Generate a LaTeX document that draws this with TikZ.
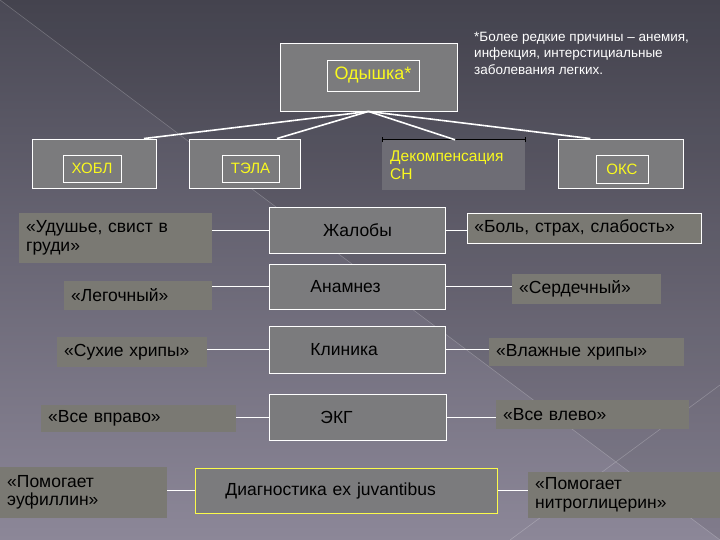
\documentclass[tikz,border=0pt]{standalone}
\usepackage{fontspec}
\setmainfont{Liberation Sans}
\usetikzlibrary{calc,arrows.meta}

\definecolor{bgtop}{RGB}{74,73,85}
\definecolor{bgbot}{RGB}{140,135,152}
\definecolor{boxgray}{RGB}{123,123,125}
\definecolor{sidegray}{RGB}{122,121,115}
\definecolor{cellgray}{RGB}{110,109,117}
\definecolor{tagyellow}{RGB}{250,250,30}

\tikzset{
  frame/.style={draw=white, fill=boxgray, line width=0.9pt, inner sep=0pt},
  tag/.style={frame, text=tagyellow, font=\fontsize{15}{18}\selectfont},
  cell/.style={frame, anchor=west, align=left, minimum width=176pt, font=\fontsize{17.5}{21}\selectfont},
  side/.style={fill=sidegray, anchor=west, align=left, inner xsep=7pt, inner ysep=0pt, font=\fontsize{17.5}{18.5}\selectfont},
  link/.style={white, line width=0.9pt},
  branch/.style={white, line width=1.6pt}
}

\begin{document}
\begin{tikzpicture}[x=1pt, y=-1pt]
    % background
    \useasboundingbox (0,0) rectangle (720,540);
    \fill[top color=bgtop, bottom color=bgbot] (0,0) rectangle (720,540);
    \fill[black, opacity=0.08] (0,0) -- (720,0) -- (720,540) -- cycle;
    \draw[white, opacity=0.22, line width=0.6pt] (0,0) -- (720,540) (720,385) -- (510,540);

    % top
    \node[frame, minimum width=177pt, minimum height=68pt] (dyspbox) at (368.5,77) {};
    \node[tag, minimum width=92pt, minimum height=31pt, font=\fontsize{18}{20}\selectfont] (dysp) at (373,75.5) {Одышка*};
    \node[anchor=north west, align=left, text=white, inner sep=0pt, font=\fontsize{13.5}{16.5}\selectfont] (note) at (474,32) {*Более редкие причины – анемия,\\инфекция, интерстициальные\\заболевания легких.};

    % causes
    \node[frame, minimum width=124pt, minimum height=49pt] (copdbox) at (94,163.5) {};
    \node[tag, minimum width=58pt, minimum height=27pt] (copd) at (92,168.5) {ХОБЛ};
    \node[frame, minimum width=111pt, minimum height=49pt] (pebox) at (244.5,163.5) {};
    \node[tag, minimum width=57pt, minimum height=27pt] (pe) at (250.5,168.5) {ТЭЛА};
    \node[fill=cellgray, anchor=west, align=left, minimum height=50pt, text width=127pt, inner xsep=8pt, inner ysep=0pt, text=tagyellow, font=\fontsize{15.5}{18}\selectfont] (chf) at (382,165) {Декомпенсация\\СН};
    \draw[black, line width=0.8pt, {Bar[width=5pt]}-{Bar[width=5pt]}] (chf.north west) -- (chf.north east);
    \node[frame, minimum width=125pt, minimum height=49pt] (acsbox) at (620.5,163.5) {};
    \node[tag, minimum width=52pt, minimum height=28pt] (acs) at (622,169) {ОКС};

    \draw[branch] (dyspbox.south) -- ($(copdbox.north west)!0.9!(copdbox.north east)$);
    \draw[branch] (dyspbox.south) -- ($(pebox.north west)!0.79!(pebox.north east)$);
    \draw[branch] (dyspbox.south) -- ($(chf.north west)!0.51!(chf.north east)$);
    \draw[branch] (dyspbox.south) -- ($(acsbox.north west)!0.26!(acsbox.north east)$);

    % middle column
    \node[cell, minimum height=46pt, align=center] (compl) at (269,230) {Жалобы};
    \node[cell, minimum height=45pt, text width=94pt, inner xsep=41pt] (hist) at (269,286.5) {Анамнез};
    \node[cell, minimum height=47pt, text width=94pt, inner xsep=41pt] (clin) at (269,349.5) {Клиника};
    \node[cell, minimum height=46pt, text width=75pt, inner xsep=51pt] (ecg) at (269,417) {ЭКГ};
    \node[cell, draw=tagyellow!80!white, minimum height=45pt, text width=242pt, inner xsep=30pt] (exjuv) at (195,490.5) {Диагностика ex juvantibus};

    % left column
    \node[side, text width=179pt, minimum height=50pt] (choke) at (19,238) {«Удушье, свист в\\груди»};
    \node[side, text width=134pt, minimum height=29pt] (lung) at (64,295.5) {«Легочный»};
    \node[side, text width=136pt, minimum height=30pt] (dryr) at (57,352) {«Сухие хрипы»};
    \node[side, text width=181pt, minimum height=27pt] (right) at (41,418.5) {«Все вправо»};
    \node[side, text width=153pt, minimum height=51pt] (euph) at (0,492.5) {«Помогает\\эуфиллин»};

    % right column
    \node[side, draw=white, line width=0.9pt, text width=220pt, minimum height=30pt] (pain) at (467,228) {«Боль, страх, слабость»};
    \node[side, text width=135pt, minimum height=30pt] (card) at (512,289) {«Сердечный»};
    \node[side, text width=181pt, minimum height=28pt] (wetr) at (489,352) {«Влажные хрипы»};
    \node[side, text width=179pt, minimum height=29pt] (left) at (496,414.5) {«Все влево»};
    \node[side, text width=178pt, minimum height=46pt] (nitro) at (528,495) {«Помогает\\нитроглицерин»};

    % links
    \draw[link] (compl.west -| choke.east) -- (compl.west);
    \draw[link] (hist.west -| lung.east) -- (hist.west);
    \draw[link] (clin.west -| dryr.east) -- (clin.west);
    \draw[link] (ecg.west -| right.east) -- (ecg.west);
    \draw[link] (exjuv.west -| euph.east) -- (exjuv.west);
    \draw[link] (compl.east) -- (compl.east -| pain.west);
    \draw[link] (hist.east) -- (hist.east -| card.west);
    \draw[link] (clin.east) -- (clin.east -| wetr.west);
    \draw[link] (ecg.east) -- (ecg.east -| left.west);
    \draw[link] (exjuv.east) -- (exjuv.east -| nitro.west);
\end{tikzpicture}
\end{document}
